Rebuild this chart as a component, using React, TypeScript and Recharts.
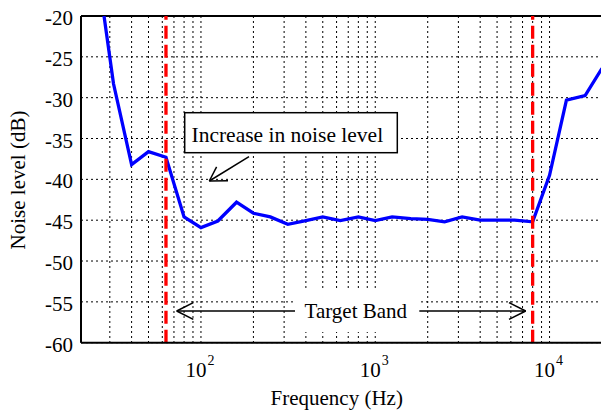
import React from 'react';
import { LineChart, Line, XAxis, YAxis, CartesianGrid, ReferenceLine } from 'recharts';

// 1/3-octave band centre frequencies (Hz)
const freqHz = [25, 31.5, 40, 50, 63, 80, 100, 125, 160, 200, 250, 315, 400, 500, 630, 800, 1000, 1250, 1600, 2000, 2500, 3150, 4000, 5000, 6300, 8000, 10000, 12500, 16000, 20000];
// Noise level (dB)
const noiseDb = [-13, -28.3, -38.2, -36.6, -37.3, -44.6, -45.9, -45.1, -42.8, -44.15, -44.6, -45.5, -45.05, -44.6, -45.05, -44.6, -45.05, -44.6, -44.8, -44.9, -45.2, -44.6, -45.0, -45.0, -45.0, -45.2, -39.5, -30.3, -29.75, -26.4];

const yTicks = [-60, -55, -50, -45, -40, -35, -30, -25, -20];
const xGridTicks = [30, 40, 50, 60, 70, 80, 90, 100, 200, 300, 400, 500, 600, 700, 800, 900, 1000, 2000, 3000, 4000, 5000, 6000, 7000, 8000, 9000, 10000, 20000];
const decadeTicks = [100, 1000, 10000];
const bandEdgesHz = [63, 8000];
const xDomain = [20.5, 20000];
const yDomain = [-60, -20];

const yLabel = 'Noise level (dB)';
const xLabel = 'Frequency (Hz)';
const noteText = 'Increase in noise level';
const bandText = 'Target Band';

const data = freqHz.map((f, i) => ({ f, db: noiseDb[i] }));

const FONT = 'Liberation Serif, Times New Roman, serif';

function XTick(props: any) {
  const { x, y, payload } = props;
  const v = payload.value;
  if (!decadeTicks.includes(v)) return <g />;
  const exp = Math.round(Math.log10(v));
  return (
    <g>
      <text x={x + 5.5} y={y + 26} textAnchor="end" fontSize={21} fill="#000" fontFamily={FONT}>10</text>
      <text x={x + 6.5} y={y + 14} textAnchor="start" fontSize={14} fill="#000" fontFamily={FONT}>{exp}</text>
    </g>
  );
}

function YTick(props: any) {
  const { x, y, payload } = props;
  return (
    <text x={x} y={y + 9} textAnchor="end" fontSize={21} fill="#000" fontFamily={FONT}>{payload.value}</text>
  );
}

export default function App() {
  return (
    <div style={{ position: 'absolute', left: 0, top: 0, width: 601, height: 412, overflow: 'hidden', background: '#fff' }}>
      <LineChart width={602} height={412} data={data} margin={{ top: 16, right: 0, bottom: 0, left: 0 }}>
        <CartesianGrid stroke="#000" strokeDasharray="2 3" strokeWidth={1} />
        <XAxis
          dataKey="f"
          type="number"
          scale="log"
          domain={xDomain}
          ticks={xGridTicks}
          interval={0}
          allowDataOverflow
          tick={<XTick />}
          tickLine={false}
          axisLine={{ stroke: '#000', strokeWidth: 2 }}
          height={69.3}
        />
        <YAxis
          type="number"
          domain={yDomain}
          ticks={yTicks}
          interval={0}
          allowDataOverflow
          width={81}
          tickLine={false}
          axisLine={{ stroke: '#000', strokeWidth: 2 }}
          tick={<YTick />}
        />
        <ReferenceLine y={-20} stroke="#000" strokeWidth={2} />
        <Line type="linear" dataKey="db" stroke="#0000ff" strokeWidth={3.3} dot={false} isAnimationActive={false} />
        {bandEdgesHz.map((f) => (
          <ReferenceLine key={f} x={f} stroke="#ff0000" strokeWidth={3.3} strokeDasharray="13 6" />
        ))}
      </LineChart>
      <svg width={601} height={412} style={{ position: 'absolute', left: 0, top: 0, pointerEvents: 'none' }}>
        <g fill="#000" fontFamily={FONT}>
          <text transform="rotate(-90)" x={-180} y={25} textAnchor="middle" fontSize={21}>{yLabel}</text>
          <text x={336.7} y={404.5} textAnchor="middle" fontSize={21}>{xLabel}</text>

          <rect x={184.7} y={112.7} width={212.6} height={40} fill="#fff" stroke="#000" strokeWidth={1.5} />
          <text x={191.5} y={141.7} fontSize={21.5}>{noteText}</text>
          <g stroke="#000" strokeWidth={1.5} fill="none">
            <line x1={249} y1={156.7} x2={209.3} y2={181} />
            <line x1={209.3} y1={181} x2={228} y2={180.7} />
            <line x1={209.3} y1={181} x2={216.6} y2={166.8} />
          </g>

          <rect x={295} y={290} width={124.3} height={42} fill="#fff" />
          <text x={355.8} y={318.3} textAnchor="middle" fontSize={21}>{bandText}</text>
          <g stroke="#000" strokeWidth={1.5} fill="none">
            <line x1={176.7} y1={311} x2={295} y2={311} />
            <line x1={176.7} y1={311} x2={193.3} y2={302.7} />
            <line x1={176.7} y1={311} x2={193.3} y2={319.3} />
            <line x1={419.3} y1={311} x2={525.7} y2={311} />
            <line x1={525.7} y1={311} x2={509} y2={302.7} />
            <line x1={525.7} y1={311} x2={509} y2={319.3} />
          </g>
        </g>
      </svg>
    </div>
  );
}
